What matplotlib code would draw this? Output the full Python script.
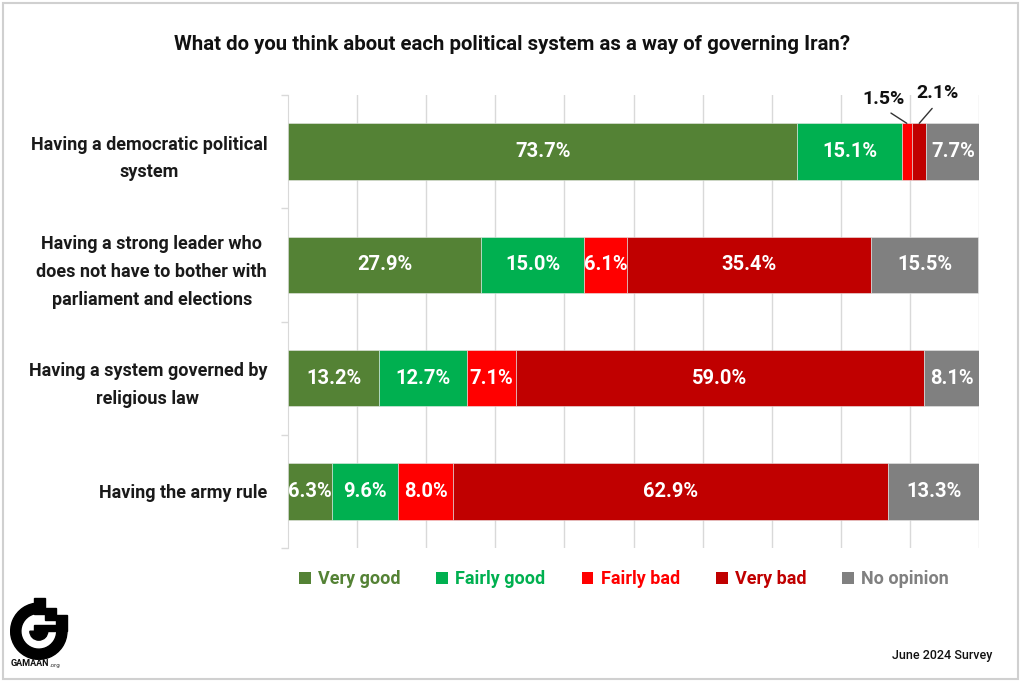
import matplotlib
matplotlib.use("Agg")
import matplotlib.pyplot as plt
from matplotlib.patches import Rectangle, Wedge, Patch
import numpy as np

plt.rcParams['font.family'] = ['Roboto', 'DejaVu Sans']

# data
categories = [
    "Having a democratic political\nsystem",
    "Having a strong leader who\ndoes not have to bother with\nparliament and elections",
    "Having a system governed by\nreligious law",
    "Having the army rule",
]
series_names = ["Very good", "Fairly good", "Fairly bad", "Very bad", "No opinion"]
very_good = [73.7, 27.9, 13.2, 6.3]
fairly_good = [15.1, 15.0, 12.7, 9.6]
fairly_bad = [1.5, 6.1, 7.1, 8.0]
very_bad = [2.1, 35.4, 59.0, 62.9]
no_opinion = [7.7, 15.5, 8.1, 13.3]
colors = ["#548235", "#00B050", "#FF0000", "#C00000", "#808080"]

series = [very_good, fairly_good, fairly_bad, very_bad, no_opinion]

fig = plt.figure(figsize=(10.24, 6.83), dpi=100)
W, H = 1024, 683

# light frame round the picture
fig.patches.append(Rectangle((3 / W, 4 / H), 1015 / W, 676 / H, transform=fig.transFigure,
                             fill=False, edgecolor="#d0d0d0", linewidth=1.5))

ax = fig.add_axes([288 / W, 1 - 548 / H, (979 - 288) / W, (548 - 95) / H])

y = np.arange(len(categories))
left = np.zeros(len(categories))
for name, vals, c in zip(series_names, series, colors):
    vals = np.array(vals)
    ax.barh(y, vals, left=left, height=0.5, color=c, edgecolor="#e8e8e8", linewidth=0.4,
            label=name, zorder=3)
    for i, v in enumerate(vals):
        if v >= 3:
            ax.text(left[i] + v / 2, y[i], f"{v:.1f}%", ha="center", va="center",
                    color="white", fontsize=14.5, fontweight="bold", zorder=4)
    left += vals

# small values in row 0 get leader lines
x15 = very_good[0] + fairly_good[0] + fairly_bad[0] / 2
x21 = very_good[0] + fairly_good[0] + fairly_bad[0] + very_bad[0] / 2
ax.annotate(f"{fairly_bad[0]:.1f}%", xy=(x15, -0.25), xytext=(-17, 11), textcoords="offset points",
            ha="center", va="bottom", fontsize=14, fontweight="bold", color="#111111",
            arrowprops=dict(arrowstyle="-", color="#333333", lw=1.0, shrinkA=3, shrinkB=0,
                            relpos=(0.5, 0)), annotation_clip=False)
ax.annotate(f"{very_bad[0]:.1f}%", xy=(x21, -0.25), xytext=(13, 15), textcoords="offset points",
            ha="center", va="bottom", fontsize=14, fontweight="bold", color="#111111",
            arrowprops=dict(arrowstyle="-", color="#333333", lw=1.0, shrinkA=3, shrinkB=0,
                            relpos=(0.5, 0)), annotation_clip=False)

ax.set_xlim(0, 100)
ax.set_ylim(3.5, -0.5)
ax.set_xticks(np.arange(10, 101, 10))
ax.xaxis.grid(True, color="#d9d9d9", linewidth=1, zorder=0)
ax.tick_params(axis="x", length=0, labelbottom=False)
ax.set_yticks(y)
ax.set_yticklabels(categories, fontsize=13, fontweight="bold", color="#1a1a1a",
                   multialignment="center", linespacing=1.7)
ax.set_yticks(np.arange(-0.5, 4, 1), minor=True)
ax.tick_params(axis="y", which="major", length=0, pad=15)
ax.tick_params(axis="y", which="minor", length=5, color="#d9d9d9", width=1)
for s in ["top", "right", "bottom"]:
    ax.spines[s].set_visible(False)
ax.spines["left"].set_color("#d9d9d9")

fig.text(512 / W, 1 - 44 / H, "What do you think about each political system as a way of governing Iran?",
         ha="center", va="center", fontsize=14.7, fontweight="bold", color="#111111")

handles = [Patch(facecolor=c, edgecolor="none") for c in colors]
leg = fig.legend(handles, series_names, loc="center", bbox_to_anchor=(624 / W, 1 - 579 / H),
                 ncol=5, frameon=False, fontsize=13, handlelength=0.65, handleheight=0.65,
                 handletextpad=0.4, columnspacing=2.0)
for t, c in zip(leg.get_texts(), colors):
    t.set_color(c)
    t.set_fontweight("bold")

fig.text(992 / W, 1 - 655 / H, "June 2024 Survey", ha="right", va="center",
         fontsize=9, fontweight="medium", color="#111111")

# logo
lax = fig.add_axes([10 / W, 1 - 660 / H, 64 / W, 64 / H])
lax.set_xlim(0, 1)
lax.set_ylim(0, 1)
lax.set_aspect("equal")
lax.axis("off")
lax.add_patch(Wedge((0.45, 0.45), 0.44, 90, 360, width=0.16, color="black"))
lax.add_patch(Wedge((0.45, 0.45), 0.14, 180, 360, color="black"))
lax.add_patch(Rectangle((0.38, 0.72), 0.16, 0.25, color="black"))
lax.add_patch(Rectangle((0.54, 0.62), 0.18, 0.2, color="black"))
lax.add_patch(Rectangle((0.72, 0.45), 0.17, 0.26, color="black"))
lax.add_patch(Rectangle((0.38, 0.45), 0.34, 0.1, color="black"))
fig.text(49 / W, 1 - 664 / H, "GAMAAN", ha="right", va="center", fontsize=6.5,
         fontweight="bold", color="#111111")
fig.text(50 / W, 1 - 665 / H, ".org", ha="left", va="center", fontsize=4.5, color="#333333")

fig.savefig("out.png", dpi=100)
